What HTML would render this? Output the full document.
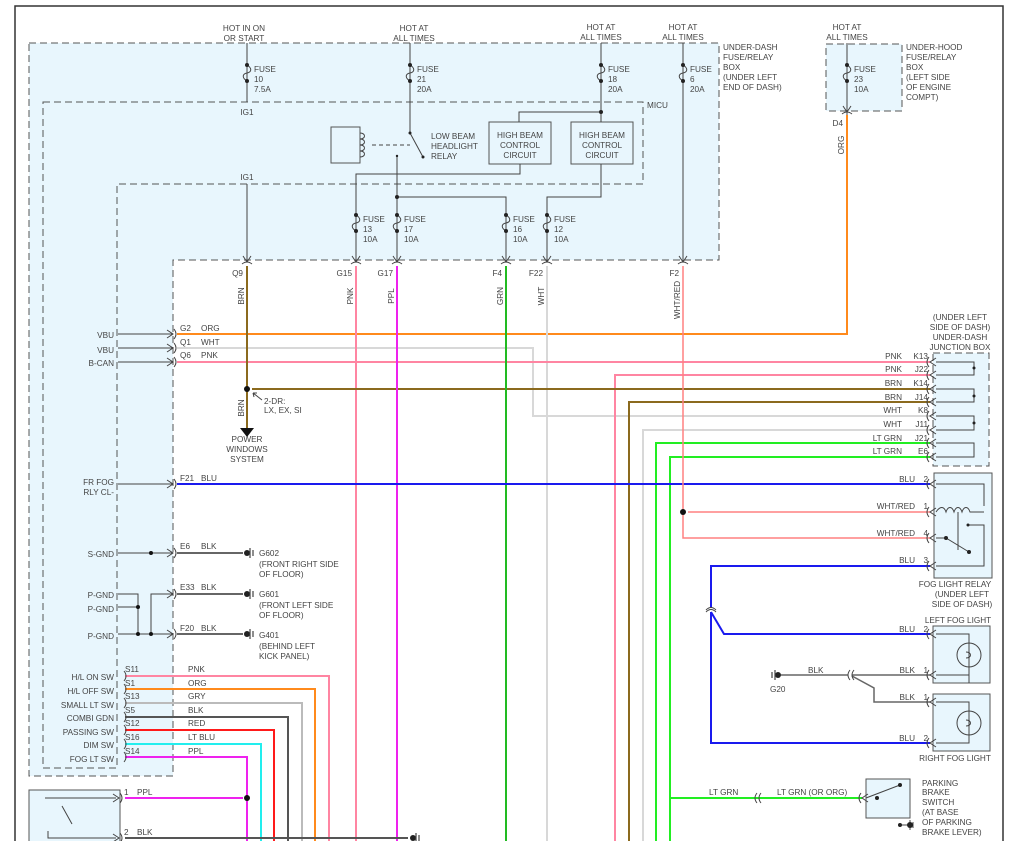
<!DOCTYPE html>
<html><head><meta charset="utf-8"><style>
html,body{margin:0;padding:0;background:#fff;}
svg{display:block;font-family:"Liberation Sans",sans-serif;}
text{font-size:8.2px;fill:#444;}
</style></head><body>
<svg width="1018" height="841" viewBox="0 0 1018 841" xmlns="http://www.w3.org/2000/svg">
<defs>
<g id="cR" fill="none" stroke="#444" stroke-width="1"><path d="M-6,-4 L0,0 L-6,4"/><path d="M1,-5 Q5,0 1,5"/></g>
<g id="cL" fill="none" stroke="#444" stroke-width="1"><path d="M6,-4 L0,0 L6,4"/><path d="M-1,-5 Q-5,0 -1,5"/></g>
<g id="cD" fill="none" stroke="#444" stroke-width="1"><path d="M-4,-6 L0,0 L4,-6"/><path d="M-5,2 Q0,-2 5,2"/></g>
<g id="fuse"><path d="M0,0 C5,3 5,7 0,8 C-5,9 -5,13 0,16" fill="none" stroke="#444" stroke-width="1"/><circle cx="0" cy="0" r="2" fill="#222"/><circle cx="0" cy="16" r="2" fill="#222"/></g>
<g id="gnd"><circle cx="0" cy="0" r="3" fill="#222"/><path d="M3,-5 V5 M6,-3 V3" stroke="#444" stroke-width="1.2"/></g>
</defs>
<rect x="15" y="6" width="988" height="850" fill="none" stroke="#333" stroke-width="1.5"/>

<!-- boxes -->
<path d="M29,43 H719 V260 H173 V776 H29 Z" fill="#e8f6fd" stroke="#555" stroke-dasharray="7,4"/>
<path d="M43,102 H643 V184 H117 V768 H43 Z" fill="none" stroke="#555" stroke-dasharray="7,4"/>
<rect x="826" y="44" width="76" height="67" fill="#e8f6fd" stroke="#555" stroke-dasharray="7,4"/>
<rect x="933" y="353" width="56" height="113" fill="#e8f6fd" stroke="#555" stroke-dasharray="7,4"/>
<rect x="934" y="473" width="58" height="105" fill="#e8f6fd" stroke="#555"/>
<rect x="933" y="626" width="57" height="57" fill="#e8f6fd" stroke="#555"/>
<rect x="933" y="694" width="57" height="57" fill="#e8f6fd" stroke="#555"/>
<rect x="866" y="779" width="44" height="39" fill="#e8f6fd" stroke="#555"/>
<rect x="29" y="790" width="91" height="60" fill="#e8f6fd" stroke="#555"/>
<rect x="331" y="127" width="29" height="36" fill="#e8f6fd" stroke="#555"/>
<rect x="489" y="122" width="62" height="42" fill="#e8f6fd" stroke="#555"/>
<rect x="571" y="122" width="62" height="42" fill="#e8f6fd" stroke="#555"/>

<!-- top labels -->
<g text-anchor="middle">
<text x="244" y="31">HOT IN ON</text><text x="244" y="41">OR START</text>
<text x="414" y="31">HOT AT</text><text x="414" y="41">ALL TIMES</text>
<text x="601" y="30">HOT AT</text><text x="601" y="40">ALL TIMES</text>
<text x="683" y="30">HOT AT</text><text x="683" y="40">ALL TIMES</text>
<text x="847" y="30">HOT AT</text><text x="847" y="40">ALL TIMES</text>
<text x="247" y="115">IG1</text><text x="247" y="180">IG1</text>
<text x="520" y="138">HIGH BEAM</text><text x="520" y="148">CONTROL</text><text x="520" y="158">CIRCUIT</text>
<text x="602" y="138">HIGH BEAM</text><text x="602" y="148">CONTROL</text><text x="602" y="158">CIRCUIT</text>
<text x="247" y="442">POWER</text><text x="247" y="452">WINDOWS</text><text x="247" y="462">SYSTEM</text>
</g>
<text x="723" y="50">UNDER-DASH</text><text x="723" y="60">FUSE/RELAY</text><text x="723" y="70">BOX</text><text x="723" y="80">(UNDER LEFT</text><text x="723" y="90">END OF DASH)</text>
<text x="906" y="50">UNDER-HOOD</text><text x="906" y="60">FUSE/RELAY</text><text x="906" y="70">BOX</text><text x="906" y="80">(LEFT SIDE</text><text x="906" y="90">OF ENGINE</text><text x="906" y="100">COMPT)</text>
<text x="647" y="108">MICU</text>
<text x="431" y="139">LOW BEAM</text><text x="431" y="149">HEADLIGHT</text><text x="431" y="159">RELAY</text>

<!-- internal gray wiring -->
<g stroke="#444" stroke-width="1" fill="none">
<path d="M247,43 V102 M247,184 V262"/>
<path d="M410,43 V133 L423,157"/>
<path d="M601,43 V122 M601,112 H519 V122"/>
<path d="M683,43 V262"/>
<path d="M847,43 V118"/>
<path d="M360,133 C366,133 366,139 360,139 C366,139 366,145 360,145 C366,145 366,151 360,151 C366,151 366,157 360,157"/>
<path d="M372,145 H410" stroke-dasharray="4,3"/>
<path d="M397,156 V262 M397,197 H506 V262"/>
<path d="M520,164 V174 H356 V262"/>
<path d="M601,164 V197 H547 V262"/>
</g>
<circle cx="410" cy="133" r="1.5" fill="#222"/><circle cx="423" cy="157" r="1.5" fill="#222"/>
<circle cx="397" cy="156" r="1.2" fill="#222"/><circle cx="601" cy="112" r="2" fill="#222"/><circle cx="397" cy="197" r="2" fill="#222"/>
<!-- fuses -->
<use href="#fuse" x="247" y="65"/><use href="#fuse" x="410" y="65"/><use href="#fuse" x="601" y="65"/><use href="#fuse" x="683" y="65"/><use href="#fuse" x="847" y="65"/>
<use href="#fuse" x="356" y="215"/><use href="#fuse" x="397" y="215"/><use href="#fuse" x="506" y="215"/><use href="#fuse" x="547" y="215"/>
<g>
<text x="254" y="72">FUSE</text><text x="254" y="82">10</text><text x="254" y="92">7.5A</text>
<text x="417" y="72">FUSE</text><text x="417" y="82">21</text><text x="417" y="92">20A</text>
<text x="608" y="72">FUSE</text><text x="608" y="82">18</text><text x="608" y="92">20A</text>
<text x="690" y="72">FUSE</text><text x="690" y="82">6</text><text x="690" y="92">20A</text>
<text x="854" y="72">FUSE</text><text x="854" y="82">23</text><text x="854" y="92">10A</text>
<text x="363" y="222">FUSE</text><text x="363" y="232">13</text><text x="363" y="242">10A</text>
<text x="404" y="222">FUSE</text><text x="404" y="232">17</text><text x="404" y="242">10A</text>
<text x="513" y="222">FUSE</text><text x="513" y="232">16</text><text x="513" y="242">10A</text>
<text x="554" y="222">FUSE</text><text x="554" y="232">12</text><text x="554" y="242">10A</text>
</g>
<use href="#cD" x="247" y="262"/><use href="#cD" x="356" y="262"/><use href="#cD" x="397" y="262"/><use href="#cD" x="506" y="262"/><use href="#cD" x="547" y="262"/><use href="#cD" x="683" y="262"/><use href="#cD" x="847" y="112"/>
<g text-anchor="end"><text x="243" y="276">Q9</text><text x="352" y="276">G15</text><text x="393" y="276">G17</text><text x="502" y="276">F4</text><text x="543" y="276">F22</text><text x="679" y="276">F2</text><text x="843" y="126">D4</text></g>

<!-- colored wires -->
<g fill="none" stroke-width="2">
<path d="M177,334 H847 V115" stroke="#ff8a1c"/>
<path d="M177,348 H533 V416 H930" stroke="#d8d8d8"/>
<path d="M547,266 V841" stroke="#d8d8d8"/>
<path d="M643,841 V430 H930" stroke="#d8d8d8"/>
<path d="M177,362 H930" stroke="#ff85a2"/>
<path d="M615,841 V375 H930" stroke="#ff85a2"/>
<path d="M356,266 V841" stroke="#ff85a2"/>
<path d="M329,841 V676 H125" stroke="#ff85a2"/>
<path d="M247,266 V430" stroke="#8b6a1e"/>
<path d="M252,389 H930" stroke="#8b6a1e"/>
<path d="M629,841 V402 H930" stroke="#8b6a1e"/>
<path d="M397,266 V841" stroke="#ee22ee"/>
<path d="M247,841 V757 H125" stroke="#ee22ee"/>
<path d="M125,798 H243" stroke="#ee22ee"/>
<path d="M506,266 V841" stroke="#22bb22"/>
<path d="M656,841 V443 H930" stroke="#22ee22"/>
<path d="M670,841 V457 H930 M670,798 H862" stroke="#22ee22"/>
<path d="M177,484 H930" stroke="#1a1aee"/>
<path d="M930,566 H711 V608 M711,612 L724,634 H930 M711,612 V743 H930" stroke="#1a1aee"/>
<path d="M683,266 V538 H930 M688,512 H930" stroke="#ff8080" stroke-width="1.5"/>
<path d="M315,841 V689 H125" stroke="#ff8a1c"/>
<path d="M302,841 V703 H125" stroke="#bbb"/>
<path d="M288,841 V717 H125" stroke="#555"/>
<path d="M274,841 V730 H125" stroke="#ff1a1a"/>
<path d="M261,841 V744 H125" stroke="#22eeee"/>
<path d="M125,838 H408" stroke="#555"/>
<path d="M177,553 H243 M177,594 H243 M177,634 H243" stroke="#666"/>
<path d="M781,675 H848 M852,675 H930 M852,676 L874,688 V702 H930" stroke="#666" stroke-width="1.5"/>
</g>
<circle cx="247" cy="389" r="3" fill="#111"/><circle cx="683" cy="512" r="3" fill="#111"/><circle cx="247" cy="798" r="3" fill="#111"/>
<path d="M240,428 H254 L247,437 Z" fill="#111"/>
<path d="M262,400 L253,393 M253,393 l1,4 M253,393 l4,0" stroke="#444" fill="none"/>
<text x="264" y="404">2-DR:</text><text x="264" y="413">LX, EX, SI</text>
<!-- rotated wire labels -->
<g text-anchor="middle">
<text transform="translate(244,296) rotate(-90)">BRN</text>
<text transform="translate(353,296) rotate(-90)">PNK</text>
<text transform="translate(394,296) rotate(-90)">PPL</text>
<text transform="translate(503,296) rotate(-90)">GRN</text>
<text transform="translate(544,296) rotate(-90)">WHT</text>
<text transform="translate(680,300) rotate(-90)">WHT/RED</text>
<text transform="translate(844,145) rotate(-90)">ORG</text>
<text transform="translate(244,408) rotate(-90)">BRN</text>
</g>
<!-- MICU left pins -->
<g stroke="#444" fill="none">
<path d="M118,334 H173 M118,348 H173 M118,362 H173 M118,484 H173 M118,553 H173"/>
<path d="M118,594 H138 V634 M118,607 H138 M118,634 H173 M151,634 V594 H173"/>
<path d="M45,798 H116 M62,806 L72,824 M48,831 V838 H116"/>
</g>
<circle cx="151" cy="553" r="2" fill="#111"/><circle cx="138" cy="607" r="2" fill="#111"/><circle cx="138" cy="634" r="2" fill="#111"/><circle cx="151" cy="634" r="2" fill="#111"/>
<use href="#cR" x="173" y="334"/><use href="#cR" x="173" y="348"/><use href="#cR" x="173" y="362"/><use href="#cR" x="173" y="484"/><use href="#cR" x="173" y="553"/><use href="#cR" x="173" y="594"/><use href="#cR" x="173" y="634"/>
<use href="#cR" x="119" y="798"/><use href="#cR" x="119" y="838"/>
<g fill="none" stroke="#444"><path d="M124,671 Q128,676 124,681 M124,684 Q128,689 124,694 M124,698 Q128,703 124,708 M124,712 Q128,717 124,722 M124,725 Q128,730 124,735 M124,739 Q128,744 124,749 M124,752 Q128,757 124,762"/></g>
<g text-anchor="end">
<text x="114" y="338">VBU</text><text x="114" y="353">VBU</text><text x="114" y="366">B-CAN</text>
<text x="114" y="485">FR FOG</text><text x="114" y="495">RLY CL-</text>
<text x="114" y="557">S-GND</text><text x="114" y="598">P-GND</text><text x="114" y="612">P-GND</text><text x="114" y="639">P-GND</text>
<text x="114" y="680">H/L ON SW</text><text x="114" y="694">H/L OFF SW</text><text x="114" y="708">SMALL LT SW</text><text x="114" y="721">COMBI GDN</text><text x="114" y="735">PASSING SW</text><text x="114" y="748">DIM SW</text><text x="114" y="762">FOG LT SW</text>
</g>
<g>
<text x="180" y="331">G2</text><text x="201" y="331">ORG</text>
<text x="180" y="345">Q1</text><text x="201" y="345">WHT</text>
<text x="180" y="358">Q6</text><text x="201" y="358">PNK</text>
<text x="180" y="481">F21</text><text x="201" y="481">BLU</text>
<text x="180" y="549">E6</text><text x="201" y="549">BLK</text>
<text x="180" y="590">E33</text><text x="201" y="590">BLK</text>
<text x="180" y="631">F20</text><text x="201" y="631">BLK</text>
<text x="125" y="672">S11</text><text x="188" y="672">PNK</text>
<text x="125" y="686">S1</text><text x="188" y="686">ORG</text>
<text x="125" y="699">S13</text><text x="188" y="699">GRY</text>
<text x="125" y="713">S5</text><text x="188" y="713">BLK</text>
<text x="125" y="726">S12</text><text x="188" y="726">RED</text>
<text x="125" y="740">S16</text><text x="188" y="740">LT BLU</text>
<text x="125" y="754">S14</text><text x="188" y="754">PPL</text>
<text x="124" y="795">1</text><text x="137" y="795">PPL</text>
<text x="124" y="835">2</text><text x="137" y="835">BLK</text>
<text x="259" y="556">G602</text><text x="259" y="567">(FRONT RIGHT SIDE</text><text x="259" y="577">OF FLOOR)</text>
<text x="259" y="597">G601</text><text x="259" y="608">(FRONT LEFT SIDE</text><text x="259" y="618">OF FLOOR)</text>
<text x="259" y="638">G401</text><text x="259" y="649">(BEHIND LEFT</text><text x="259" y="659">KICK PANEL)</text>
</g>
<use href="#gnd" x="247" y="553"/><use href="#gnd" x="247" y="594"/><use href="#gnd" x="247" y="634"/><use href="#gnd" x="413" y="838"/>
<g transform="translate(778,675) scale(-1,1)"><use href="#gnd"/></g>
<text x="770" y="692">G20</text>

<!-- right side connectors & labels -->
<use href="#cL" x="930" y="362"/><use href="#cL" x="930" y="375"/><use href="#cL" x="930" y="389"/><use href="#cL" x="930" y="402"/><use href="#cL" x="930" y="416"/><use href="#cL" x="930" y="430"/><use href="#cL" x="930" y="443"/><use href="#cL" x="930" y="457"/>
<use href="#cL" x="930" y="484"/><use href="#cL" x="930" y="512"/><use href="#cL" x="930" y="538"/><use href="#cL" x="930" y="566"/>
<use href="#cL" x="930" y="634"/><use href="#cL" x="930" y="675"/><use href="#cL" x="930" y="702"/><use href="#cL" x="930" y="743"/><use href="#cL" x="862" y="798"/>
<g fill="none" stroke="#444"><path d="M850,670 Q846,675 850,680 M854,670 Q850,675 854,680 M757,793 Q753,798 757,803 M761,793 Q757,798 761,803 M706,610 Q711,605 716,610 M706,612 Q711,607 716,612"/></g>
<g stroke="#444" fill="none">
<path d="M936,362 H974 V375 H936 M936,389 H974 V402 H936 M936,416 H974 V430 H936 M936,443 H974 V457 H936"/>
<path d="M936,484 H984 V506 M936,512 C940,506 944,506 946,512 C948,506 952,506 954,512 C956,506 960,506 962,512 C964,506 968,506 970,512 H984 M958,512 V550" />
<path d="M968,525 H984 V566 H936 M936,538 H946 L969,552"/>
<path d="M936,634 H969 V683 M936,675 H969 V683 M936,702 H969 V743 H936"/>
<circle cx="969" cy="655" r="12"/><circle cx="969" cy="723" r="12"/>
<path d="M966,652 C972,652 972,658 966,658 M966,720 C972,720 972,726 966,726"/>
<path d="M866,798 L900,785 M898,825 H910 M910,820 V830 M913,822 V828"/>
</g>
<circle cx="974" cy="368" r="1.5" fill="#222"/><circle cx="974" cy="396" r="1.5" fill="#222"/><circle cx="974" cy="423" r="1.5" fill="#222"/>
<circle cx="946" cy="538" r="2" fill="#222"/><circle cx="969" cy="552" r="2" fill="#222"/><circle cx="968" cy="525" r="1.5" fill="#222"/>
<circle cx="877" cy="798" r="2" fill="#222"/><circle cx="900" cy="785" r="2" fill="#222"/><circle cx="900" cy="825" r="2" fill="#222"/><circle cx="910" cy="825" r="3" fill="#222"/>
<g text-anchor="middle"><text x="960" y="320">(UNDER LEFT</text><text x="960" y="330">SIDE OF DASH)</text><text x="960" y="340">UNDER-DASH</text><text x="960" y="350">JUNCTION BOX</text>
<text x="955" y="587">FOG LIGHT RELAY</text><text x="962" y="597">(UNDER LEFT</text><text x="962" y="607">SIDE OF DASH)</text>
<text x="958" y="623">LEFT FOG LIGHT</text><text x="955" y="761">RIGHT FOG LIGHT</text></g>
<g text-anchor="end">
<text x="902" y="359">PNK</text><text x="928" y="359">K13</text>
<text x="902" y="372">PNK</text><text x="928" y="372">J22</text>
<text x="902" y="386">BRN</text><text x="928" y="386">K14</text>
<text x="902" y="400">BRN</text><text x="928" y="400">J14</text>
<text x="902" y="413">WHT</text><text x="928" y="413">K8</text>
<text x="902" y="427">WHT</text><text x="928" y="427">J11</text>
<text x="902" y="441">LT GRN</text><text x="928" y="441">J21</text>
<text x="902" y="454">LT GRN</text><text x="928" y="454">E6</text>
<text x="915" y="482">BLU</text><text x="928" y="482">2</text>
<text x="915" y="509">WHT/RED</text><text x="928" y="509">1</text>
<text x="915" y="536">WHT/RED</text><text x="928" y="536">4</text>
<text x="915" y="563">BLU</text><text x="928" y="563">3</text>
<text x="915" y="632">BLU</text><text x="928" y="632">2</text>
<text x="915" y="673">BLK</text><text x="928" y="673">1</text>
<text x="915" y="700">BLK</text><text x="928" y="700">1</text>
<text x="915" y="741">BLU</text><text x="928" y="741">2</text>
</g>
<text x="808" y="673">BLK</text>
<text x="709" y="795">LT GRN</text><text x="777" y="795">LT GRN (OR ORG)</text>
<text x="922" y="786">PARKING</text><text x="922" y="795">BRAKE</text><text x="922" y="805">SWITCH</text><text x="922" y="815">(AT BASE</text><text x="922" y="825">OF PARKING</text><text x="922" y="835">BRAKE LEVER)</text>
</svg>
</body></html>
